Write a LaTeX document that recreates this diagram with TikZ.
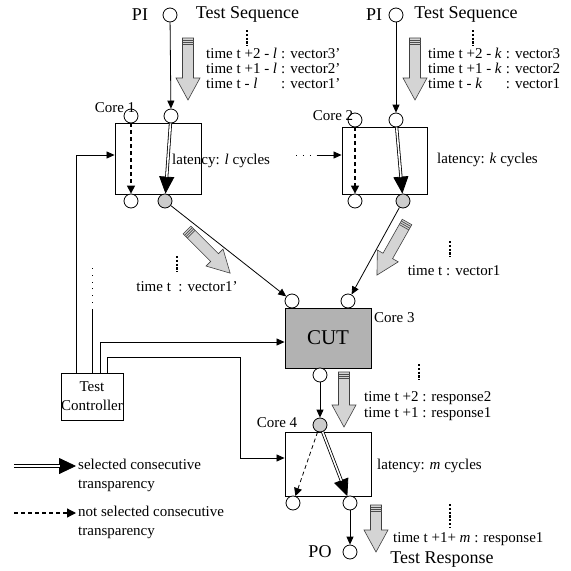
\documentclass[tikz,border=0pt]{standalone}
\usepackage{fontspec}
\setmainfont{Liberation Serif}
\usetikzlibrary{arrows.meta,calc}
\definecolor{portgray}{gray}{0.8}
\definecolor{cutgray}{gray}{0.7}
\definecolor{flowgray}{gray}{0.83}
\newcommand{\smallsz}{\fontsize{15}{15}\selectfont}
\newcommand{\twosz}{\fontsize{15}{19}\selectfont}
\newcommand{\bigsz}{\fontsize{18}{18}\selectfont}
\tikzset{pics/flow/.style={code={
  \filldraw[fill=flowgray, draw=black!75, line width=0.6pt]
    (-5.5,0) -- (5.5,0) -- (5.5,#1-22) -- (12,#1-22) -- (0,#1) -- (-12,#1-22) -- (-5.5,#1-22) -- cycle;
  \foreach \s in {2,4,6} \draw[black!70, line width=0.7pt] (-5.5,\s) -- (5.5,\s);
}}}
\begin{document}
\begin{tikzpicture}[x=1pt,y=-1pt,
  every node/.style={inner sep=0pt, font=\smallsz},
  port/.style={circle, draw, line width=0.8pt, minimum size=14pt, inner sep=0pt, fill=white},
  gport/.style={port, fill=portgray},
  corebox/.style={draw, line width=0.9pt},
  wire/.style={line width=0.8pt},
  arr/.style={wire, -{Triangle[length=8pt,width=7pt]}},
  dotwire/.style={line width=0.9pt, dash pattern=on 0.9pt off 6pt},
  dasharr/.style={line width=1.3pt, dash pattern=on 4pt off 3pt, -{Triangle[length=8pt,width=8pt]}},
  thindasharr/.style={line width=0.8pt, dash pattern=on 4pt off 3pt, -{Triangle[length=8pt,width=8pt]}},
  bigtip/.style={line width=0.8pt, -{Triangle[length=17pt,width=15pt]}},
  dbl/.style={line width=0.8pt, double, double distance=1.6pt, shorten >=16.5pt},
  vdots/.style={line width=2.4pt, dash pattern=on 2.2pt off 1.6pt},
]
\fill[white] (0,0) rectangle (571,571);
\useasboundingbox (0,0) rectangle (571,571);

% boxes
\node[corebox, minimum width=86pt, minimum height=71pt] (core1) at (158,158.5) {};
\node[corebox, minimum width=85pt, minimum height=67pt] (core2) at (384.5,160.5) {};
\node[corebox, fill=cutgray, minimum width=86pt, minimum height=60pt, font=\fontsize{21}{21}\selectfont] (cut) at (328,338) {CUT};
\node[corebox, minimum width=86pt, minimum height=64pt] (core4) at (328,464) {};
\node[corebox, minimum width=62pt, minimum height=47pt, align=center, font=\twosz] (tc) at (92,396.5) {Test\\Controller};

% ports
\node[port] (pi1) at (170,15) {};
\node[port] (pi2) at (396,15) {};
\node[port] (c1a) at (131,116) {};
\node[port] (c1b) at (171,116) {};
\node[port] (c1c) at (131,201) {};
\node[gport] (c1g) at (165,201) {};
\node[port] (c2a) at (355,120) {};
\node[port] (c2b) at (396,120) {};
\node[port] (c2c) at (355,201) {};
\node[gport] (c2g) at (403,201) {};
\node[port] (cutA) at (292,301) {};
\node[port] (cutB) at (348,301) {};
\node[port] (cutC) at (320,375) {};
\node[gport] (c4g) at (320,425) {};
\node[port] (c4a) at (293,503) {};
\node[port] (c4b) at (350,503) {};
\node[port] (po) at (350,552) {};

% main connectors
\draw[arr] (pi1) -- (c1b);
\draw[arr] (pi2) -- (c2b);
\draw[arr] (c1g) -- (cutA);
\draw[arr] (c2g) -- (cutB);
\draw[arr] (cutC) -- (c4g);
\draw[arr] (c4b) -- (po);

% transparency paths
\draw[dasharr] (c1a) -- (c1c);
\draw[dasharr] (c2a) -- (c2c);
\draw[thindasharr] (c4g) -- (c4a);
\draw[bigtip] (c1b) -- (c1g);
\draw[dbl] (c1b) -- (c1g);
\draw[bigtip] (c2b) -- (c2g);
\draw[dbl] (c2b) -- (c2g);
\draw[bigtip] (c4g) -- (c4b);
\draw[dbl] (c4g) -- (c4b);

% test controller wires
\draw[arr] (76,0 |- tc.north) |- (core1.west |- 0,155);
\draw[wire] (92,0 |- tc.north) -- (92,310);
\draw[dotwire] (92,310) -- (92,262);
\draw[arr] (100,0 |- tc.north) |- (cut.west |- 0,342);
\draw[arr] (107,0 |- tc.north) -- (107,357) -| (240,458) -- (core4.west |- 0,458);
\draw[dotwire] (296,155) -- (318,155);
\draw[arr] (318,155) -- (core2.west |- 0,155);

% flow arrows
\pic at (188,38) {flow=62};
\pic at (415,38) {flow=62};
\pic[rotate=45] at (187,230) {flow=61};
\pic[rotate=-29.5] at (407,222) {flow=61};
\pic at (344,372) {flow=55};
\pic at (376,505) {flow=47};

% dots
\draw[vdots] (247,30) -- (247,46);
\draw[vdots] (473,30) -- (473,46);
\draw[vdots] (177,256) -- (177,272);
\draw[vdots] (450,241) -- (450,257);
\draw[vdots] (419,364) -- (419,380);
\draw[vdots] (450,504) -- (450,528);

% labels
\node[font=\bigsz] at (140,15) {PI};
\node[font=\bigsz] at (247.5,14) {Test Sequence};
\node[font=\bigsz] at (374,15) {PI};
\node[font=\bigsz] at (466,14) {Test Sequence};
\node at (115,108) {Core 1};
\node at (333,116) {Core 2};
\node[anchor=west] at (374,318) {Core 3};
\node at (277,423) {Core 4};
\node[anchor=west] at (172,161) {latency: \textit{l} cycles};
\node[anchor=west] at (437,160) {latency: \textit{k} cycles};
\node[anchor=west] at (377,466) {latency: \textit{m} cycles};

\node[anchor=west] at (206,70) {\begin{tabular}{@{}l@{\hspace{4pt}}l@{}}time t +2 - \textit{l} & : vector3'\\ time t +1 - \textit{l} & : vector2'\\ time t - \textit{l} & : vector1'\end{tabular}};
\node[anchor=west] at (428,70) {\begin{tabular}{@{}l@{\hspace{4pt}}l@{}}time t +2 - \textit{k} & : vector3\\ time t +1 - \textit{k} & : vector2\\ time t - \textit{k} & : vector1\end{tabular}};
\node at (187,287) {time t\ \ : vector1'};
\node at (454,271) {time t : vector1};
\node[anchor=west, align=left, font=\fontsize{15}{16}\selectfont] at (364,406) {time t +2 : response2\\time t +1 : response1};
\node[anchor=west] at (393,539) {time t +1+ \textit{m} : response1};
\node[font=\bigsz] at (320,552) {PO};
\node[font=\bigsz] at (442,560) {Test Response};

% legend
\coordinate (l1a) at (14,466);
\coordinate (l1b) at (76,466);
\draw[line width=0.8pt, -{Triangle[length=17pt,width=16pt]}] (l1a) -- (l1b);
\draw[dbl] (l1a) -- (l1b);
\node[anchor=west, align=left, font=\twosz] at (78,475.5) {selected consecutive\\transparency};
\coordinate (l2a) at (14,513);
\coordinate (l2b) at (76,513);
\draw[line width=1.3pt, dash pattern=on 4pt off 3pt, -{Triangle[length=9pt,width=9pt]}] (l2a) -- (l2b);
\node[anchor=west, align=left, font=\twosz] at (78,522.5) {not selected consecutive\\transparency};
\end{tikzpicture}
\end{document}
